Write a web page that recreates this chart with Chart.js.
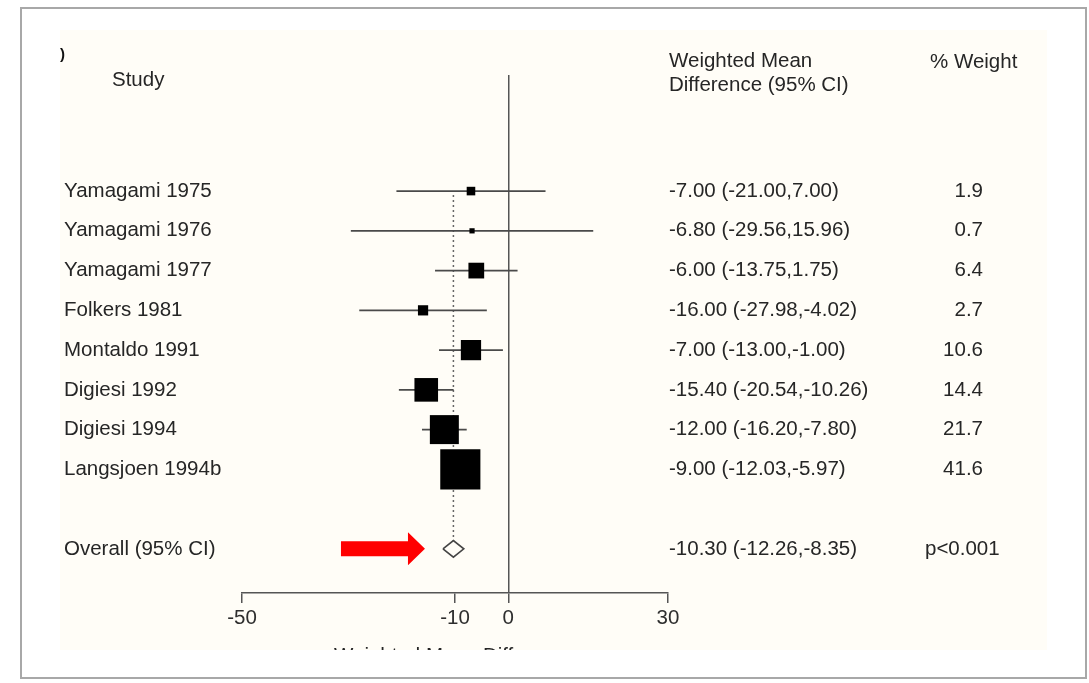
<!DOCTYPE html>
<html>
<head>
<meta charset="utf-8">
<script src="https://cdn.jsdelivr.net/npm/chart.js@4/dist/chart.umd.min.js"></script>
<style>
  html, body { margin: 0; padding: 0; background: #fff; }
  #wrap { width: 1089px; height: 683px; position: relative; }
</style>
</head>
<body>
<div id="wrap"><canvas id="forest"></canvas></div>
<script>
// Data studi
const studies = ['Yamagami 1975', 'Yamagami 1976', 'Yamagami 1977', 'Folkers 1981',
    'Montaldo 1991', 'Digiesi 1992', 'Digiesi 1994', 'Langsjoen 1994b'];
const means = [-7.00, -6.80, -6.00, -16.00, -7.00, -15.40, -12.00, -9.00];
const lower = [-21.00, -29.56, -13.75, -27.98, -13.00, -20.54, -16.20, -12.03];
const upper = [7.00, 15.96, 1.75, -4.02, -1.00, -10.26, -7.80, -5.97];
const weights = [1.9, 0.7, 6.4, 2.7, 10.6, 14.4, 21.7, 41.6];

// Hasil gabungan
const overallLabel = 'Overall (95% CI)';
const overallMean = -10.30;
const overallLower = -12.26;
const overallUpper = -8.35;
const overallP = 'p<0.001';

// Sumbu x
const xTicks = [-50, -10, 0, 30];
const xTitle = 'Weighted Mean Difference';

const overallRow = studies.length + 1;
const fontFace = '"Liberation Sans", Arial, sans-serif';
const textColor = '#262626';

function ciText(m, lo, hi) {
    return `${m.toFixed(2)} (${lo.toFixed(2)},${hi.toFixed(2)})`;
}

// Latar belakang: bingkai putih dan area krem
const backgroundPlugin = {
    id: 'background',
    beforeDraw(chart) {
        const ctx = chart.ctx;
        ctx.save();
        ctx.fillStyle = '#ffffff';
        ctx.fillRect(0, 0, chart.width, chart.height);
        ctx.fillStyle = '#fffdf7';
        ctx.fillRect(60, 30, 987, 620);
        ctx.strokeStyle = '#a8a8a8';
        ctx.lineWidth = 2;
        ctx.strokeRect(21, 8, 1065, 670);
        ctx.restore();
    }
};

// Teks kolom: nama studi, CI, bobot, judul
const textPlugin = {
    id: 'forestText',
    afterDraw(chart) {
        const ctx = chart.ctx;
        const y = chart.scales.y;
        const x = chart.scales.x;
        ctx.save();
        ctx.fillStyle = textColor;
        ctx.textBaseline = 'middle';
        ctx.font = `20.5px ${fontFace}`;

        // Header
        ctx.textAlign = 'left';
        ctx.fillText('Study', 112, 80);
        ctx.fillText('Weighted Mean', 669, 61);
        ctx.fillText('Difference (95% CI)', 669, 85);
        ctx.fillText('% Weight', 930, 62);

        studies.forEach((name, i) => {
            const py = y.getPixelForValue(i);
            ctx.textAlign = 'left';
            ctx.fillText(name, 64, py);
            ctx.fillText(ciText(means[i], lower[i], upper[i]), 669, py);
            ctx.textAlign = 'right';
            ctx.fillText(weights[i].toFixed(1), 983, py);
        });

        const oy = y.getPixelForValue(overallRow);
        ctx.textAlign = 'left';
        ctx.fillText(overallLabel, 64, oy);
        ctx.fillText(ciText(overallMean, overallLower, overallUpper), 669, oy);
        ctx.fillText(overallP, 925, oy);

        // Sisa karakter di pojok
        ctx.fillStyle = '#111';
        ctx.font = `bold 15px ${fontFace}`;
        ctx.fillText(')', 60, 55);

        // Judul sumbu x (terpotong di tepi bawah)
        ctx.beginPath();
        ctx.rect(0, 0, chart.width, 650);
        ctx.clip();
        ctx.fillStyle = textColor;
        ctx.font = `20.5px ${fontFace}`;
        ctx.textAlign = 'center';
        ctx.fillText(xTitle, (x.left + x.right) / 2, 656.5);
        ctx.restore();

        // Panah merah menunjuk ke hasil gabungan
        const tip = x.getPixelForValue(overallLower) - 18;
        ctx.save();
        ctx.fillStyle = '#ff0000';
        ctx.beginPath();
        ctx.moveTo(tip - 84, oy - 7.5);
        ctx.lineTo(tip - 17, oy - 7.5);
        ctx.lineTo(tip - 17, oy - 16.5);
        ctx.lineTo(tip, oy);
        ctx.lineTo(tip - 17, oy + 16.5);
        ctx.lineTo(tip - 17, oy + 7.5);
        ctx.lineTo(tip - 84, oy + 7.5);
        ctx.closePath();
        ctx.fill();
        ctx.restore();
    }
};

// Garis CI tiap studi
const ciDatasets = studies.map((name, i) => ({
    label: name + ' CI',
    data: [{ x: lower[i], y: i }, { x: upper[i], y: i }],
    showLine: true,
    borderColor: '#4a4a4a',
    borderWidth: 1.6,
    pointRadius: 0,
    order: 2
}));

const squareDataset = {
    label: 'Estimates',
    data: means.map((m, i) => ({ x: m, y: i })),
    pointStyle: 'rect',
    pointRadius: weights.map(w => 4.4 * Math.sqrt(w)),
    backgroundColor: '#000',
    borderWidth: 0,
    order: 0
};

const dottedDataset = {
    label: 'Overall line',
    data: [{ x: overallMean, y: 0.1 }, { x: overallMean, y: overallRow - 0.2 }],
    showLine: true,
    borderColor: '#666',
    borderWidth: 1.5,
    borderDash: [2, 3],
    pointRadius: 0,
    order: 3
};

const diamondDataset = {
    label: 'Overall',
    data: [
        { x: overallLower, y: overallRow },
        { x: overallMean, y: overallRow - 0.21 },
        { x: overallUpper, y: overallRow },
        { x: overallMean, y: overallRow + 0.21 },
        { x: overallLower, y: overallRow }
    ],
    showLine: true,
    borderColor: '#444',
    borderWidth: 1.6,
    pointRadius: 0,
    tension: 0,
    order: 1
};

const canvas = document.getElementById('forest');
canvas.width = 1089;
canvas.height = 683;

new Chart(canvas.getContext('2d'), {
    type: 'scatter',
    data: { datasets: [...ciDatasets, squareDataset, dottedDataset, diamondDataset] },
    options: {
        responsive: false,
        animation: false,
        layout: { padding: { left: 242, right: 421, top: 75, bottom: 50 } },
        plugins: { legend: { display: false }, tooltip: { enabled: false } },
        scales: {
            x: {
                type: 'linear',
                min: -50,
                max: 30,
                afterBuildTicks(scale) {
                    scale.ticks = xTicks.map(v => ({ value: v }));
                },
                afterFit(scale) {
                    scale.height = 40;
                },
                border: { display: true, color: '#555', width: 1.5 },
                grid: {
                    drawOnChartArea: true,
                    color: ctx => (ctx.tick && ctx.tick.value === 0 ? '#555' : 'rgba(0,0,0,0)'),
                    lineWidth: 1.5,
                    tickColor: '#555',
                    tickLength: 10
                },
                ticks: {
                    color: '#2e2e2e',
                    font: { family: fontFace, size: 20.5 },
                    padding: 3,
                    maxRotation: 0
                }
            },
            y: {
                type: 'linear',
                reverse: true,
                min: -2.92,
                max: 10.11,
                display: false
            }
        }
    },
    plugins: [backgroundPlugin, textPlugin]
});
</script>
</body>
</html>
